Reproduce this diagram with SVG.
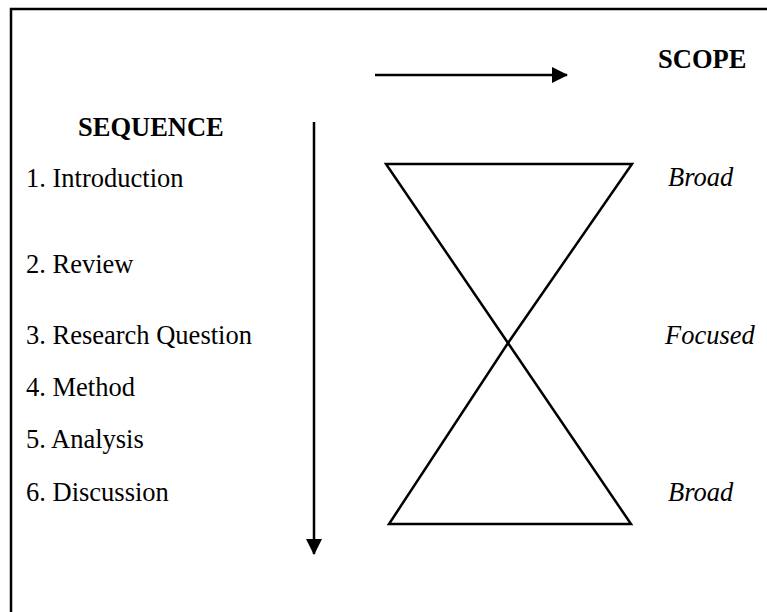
<svg xmlns="http://www.w3.org/2000/svg" width="767" height="612" viewBox="0 0 767 612">
<style>
text{font-family:"Liberation Serif","Times New Roman",serif;font-size:26.5px;fill:#000}
.b{font-weight:bold}
.i{font-style:italic}
.ln{stroke:#000;stroke-width:2.5;fill:none}
</style>
<defs>
<marker id="ah" markerWidth="16" markerHeight="16" viewBox="0 0 16 16" refX="15" refY="8" orient="auto" markerUnits="userSpaceOnUse">
<path d="M0,0 L16,8 L0,16 Z" fill="#000"/>
</marker>
</defs>
<rect x="11" y="9" width="780" height="620" fill="none" stroke="#000" stroke-width="2.5"/>
<g id="labels">
<text class="b" x="658" y="68">SCOPE</text>
<text class="b" x="78" y="136">SEQUENCE</text>
<text x="26" y="187">1. Introduction</text>
<text x="26" y="273">2. Review</text>
<text x="26" y="344">3. Research Question</text>
<text x="26" y="396">4. Method</text>
<text x="26" y="448">5. Analysis</text>
<text x="26" y="501">6. Discussion</text>
<text class="i" x="668" y="186">Broad</text>
<text class="i" x="665" y="344">Focused</text>
<text class="i" x="668" y="501">Broad</text>
</g>
<g id="hourglass">
<path class="ln" d="M386,164 L632,164 L508,343 Z"/>
<path class="ln" d="M508,343 L631,524 L389,524 Z"/>
</g>
<g id="connectors">
<line class="ln" x1="375" y1="75" x2="567" y2="75" stroke-width="2" marker-end="url(#ah)"/>
<line class="ln" x1="314" y1="122" x2="314" y2="554" stroke-width="1.5" marker-end="url(#ah)"/>
</g>
</svg>
